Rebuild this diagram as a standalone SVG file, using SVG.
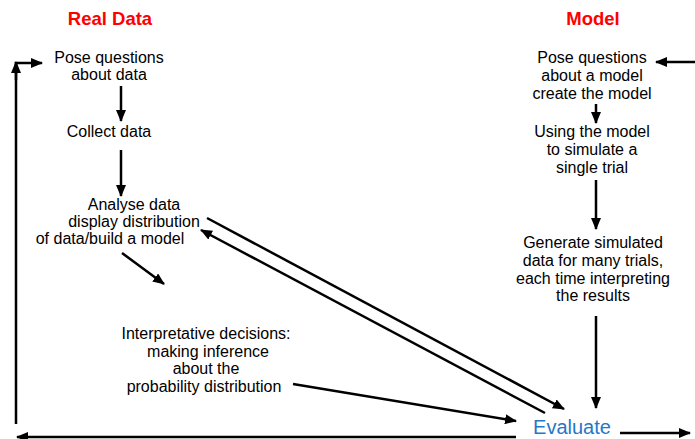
<svg xmlns="http://www.w3.org/2000/svg" width="695" height="439" viewBox="0 0 695 439">
<style>
.t{font-family:"Liberation Sans",Arial,sans-serif;font-size:16px;fill:#000;text-anchor:middle}
.h{font-family:"Liberation Sans",Arial,sans-serif;font-size:18.5px;font-weight:bold;fill:#ff0000;text-anchor:middle}
.ev{font-family:"Liberation Sans",Arial,sans-serif;font-size:20px;fill:#1f78c8;text-anchor:middle}
.c{stroke:#000;stroke-width:2.5;fill:none}
</style>
<defs>
<marker id="ah" markerUnits="userSpaceOnUse" markerWidth="12" markerHeight="10" refX="11" refY="5" orient="auto">
<path d="M0,0 L12,5 L0,10 Z" fill="#000"/>
</marker>
</defs>
<rect width="695" height="439" fill="#fff"/>
<text class="h" x="110" y="25">Real Data</text>
<text class="h" x="593" y="25">Model</text>
<g id="pose-real"><text class="t" x="109" y="63">Pose questions</text><text class="t" x="109" y="80">about data</text></g>
<g id="collect"><text class="t" x="109" y="137">Collect data</text></g>
<g id="analyse"><text class="t" x="134" y="210">Analyse data</text><text class="t" x="134" y="227">display distribution</text><text class="t" x="110" y="244">of data/build a model</text></g>
<g id="interpret"><text class="t" x="206" y="339">Interpretative decisions:</text><text class="t" x="208" y="357">making inference</text><text class="t" x="206" y="374">about the</text><text class="t" x="204" y="392">probability distribution</text></g>
<g id="pose-model"><text class="t" x="592" y="63">Pose questions</text><text class="t" x="592" y="81">about a model</text><text class="t" x="592" y="99">create the model</text></g>
<g id="simulate"><text class="t" x="592" y="137">Using the model</text><text class="t" x="592" y="155">to simulate a</text><text class="t" x="592" y="173">single trial</text></g>
<g id="generate"><text class="t" x="593" y="248">Generate simulated</text><text class="t" x="593" y="266">data for many trials,</text><text class="t" x="593" y="284">each time interpreting</text><text class="t" x="593" y="301">the results</text></g>
<g id="evaluate"><text class="ev" x="572" y="434">Evaluate</text></g>
<g id="connectors">
<line class="c" x1="121" y1="86" x2="121" y2="121" marker-end="url(#ah)"/>
<line class="c" x1="121" y1="150" x2="121" y2="196" marker-end="url(#ah)"/>
<line class="c" x1="122" y1="253" x2="164" y2="284" marker-end="url(#ah)"/>
<line class="c" x1="207" y1="218" x2="564" y2="409" marker-end="url(#ah)"/>
<line class="c" x1="545" y1="413" x2="201" y2="230" marker-end="url(#ah)"/>
<line class="c" x1="293" y1="384" x2="516" y2="421" marker-end="url(#ah)"/>
<line class="c" x1="596" y1="104" x2="596" y2="123" marker-end="url(#ah)"/>
<line class="c" x1="596" y1="180" x2="596" y2="229" marker-end="url(#ah)"/>
<line class="c" x1="596" y1="316" x2="596" y2="408" marker-end="url(#ah)"/>
<line class="c" x1="695" y1="62" x2="656" y2="62" marker-end="url(#ah)"/>
<line class="c" x1="620" y1="433" x2="690" y2="433" marker-end="url(#ah)"/>
<line class="c" x1="516" y1="437" x2="17" y2="437" marker-end="url(#ah)"/>
<polyline class="c" points="16,424 16,63 42,63" marker-end="url(#ah)"/>
<line class="c" x1="16" y1="80" x2="16" y2="62" marker-end="url(#ah)"/>
</g>
</svg>
